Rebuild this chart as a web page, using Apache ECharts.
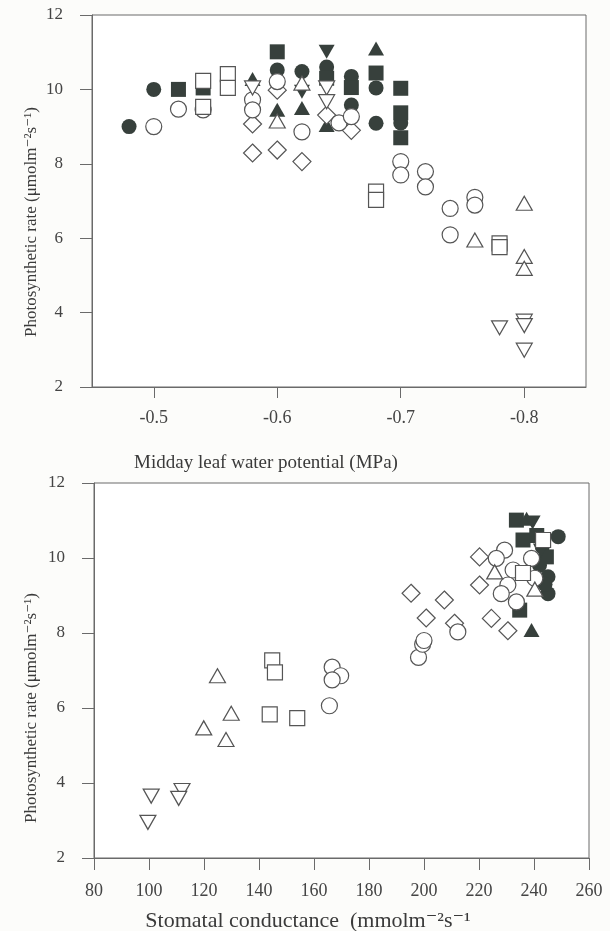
<!DOCTYPE html>
<html>
<head>
<meta charset="utf-8">
<script src="https://cdn.jsdelivr.net/npm/echarts@6/dist/echarts.min.js"></script>
<style>
html, body { margin: 0; padding: 0; background: #fcfcfa; }
#main { width: 610px; height: 931px; }
</style>
</head>
<body>
<div id="main"></div>
<script>
// upper panel: midday leaf water potential (MPa) vs photosynthetic rate
var topFilledCircle = [[-0.48, 9.0], [-0.50, 10.0], [-0.60, 10.52], [-0.62, 10.48], [-0.64, 10.6], [-0.66, 10.35], [-0.66, 9.58], [-0.68, 10.04], [-0.68, 9.09], [-0.70, 9.1]];
var topOpenCircle = [[-0.50, 9.0], [-0.52, 9.47], [-0.54, 9.45], [-0.58, 9.72], [-0.58, 9.45], [-0.60, 10.21], [-0.62, 8.86], [-0.65, 9.1], [-0.66, 9.27], [-0.70, 8.06], [-0.70, 7.7], [-0.72, 7.79], [-0.72, 7.38], [-0.74, 6.8], [-0.74, 6.09], [-0.76, 7.1], [-0.76, 6.89]];
var topFilledSquare = [[-0.52, 10.0], [-0.54, 10.04], [-0.60, 11.01], [-0.64, 10.3], [-0.66, 10.05], [-0.68, 10.44], [-0.70, 10.03], [-0.70, 9.37], [-0.70, 8.7]];
var topOpenSquare = [[-0.54, 10.23], [-0.54, 9.53], [-0.56, 10.41], [-0.56, 10.04], [-0.68, 7.25], [-0.68, 7.03], [-0.78, 5.86], [-0.78, 5.76]];
var topFilledTriUp = [[-0.58, 10.28], [-0.60, 9.45], [-0.62, 9.5], [-0.64, 9.04], [-0.68, 11.1]];
var topOpenTriUp = [[-0.60, 9.15], [-0.62, 10.17], [-0.76, 5.95], [-0.80, 6.94], [-0.80, 5.51], [-0.80, 5.19]];
var topFilledTriDown = [[-0.62, 9.94], [-0.64, 11.01]];
var topOpenTriDown = [[-0.58, 10.04], [-0.64, 10.04], [-0.64, 9.67], [-0.78, 3.59], [-0.80, 3.77], [-0.80, 3.65], [-0.80, 2.99]];
var topOpenDiamond = [[-0.58, 9.07], [-0.58, 8.29], [-0.60, 9.98], [-0.60, 8.37], [-0.62, 8.06], [-0.64, 9.31], [-0.66, 8.9]];

// lower panel: stomatal conductance vs photosynthetic rate
var botFilledCircle = [[248.8, 10.57], [245.1, 9.5], [245.1, 9.05], [243, 10.3], [242, 9.8], [244, 9.3]];
var botOpenCircle = [[166.6, 7.09], [169.7, 6.86], [166.6, 6.75], [165.6, 6.06], [198, 7.35], [199.5, 7.7], [200, 7.8], [212.3, 8.03], [229.3, 10.21], [226.3, 9.99], [239.1, 9.99], [232.4, 9.68], [240.3, 9.46], [230.5, 9.28], [228.1, 9.05], [233.6, 8.83]];
var botFilledSquare = [[233.6, 11.01], [236, 10.48], [244.5, 10.03], [234.8, 8.61], [241, 10.6]];
var botOpenSquare = [[144.8, 7.27], [145.8, 6.95], [143.9, 5.83], [153.9, 5.73], [243.3, 10.48], [236, 9.6]];
var botFilledTriUp = [[237.3, 11.05], [239.1, 8.08]];
var botOpenTriUp = [[124.9, 6.86], [129.9, 5.86], [119.9, 5.47], [128, 5.16], [225.7, 9.63], [240.3, 9.17]];
var botFilledTriDown = [[239.5, 10.95], [242.5, 10.2]];
var botOpenTriDown = [[100.8, 3.65], [99.6, 2.95], [112, 3.8], [110.8, 3.59]];
var botOpenDiamond = [[195.3, 9.06], [207.4, 8.88], [200.8, 8.4], [211.1, 8.26], [224.5, 8.39], [230.5, 8.06], [220.2, 9.28], [220.2, 10.03]];

var topXTicks = [-0.5, -0.6, -0.7, -0.8];
var yTitle = 'Photosynthetic rate (\u03bcmolm\u207b\u00b2s\u207b\u00b9)';
var topXTitle = 'Midday leaf water potential (MPa)';
var botXTitle = 'Stomatal conductance  (mmolm\u207b\u00b2s\u207b\u00b9';

var FONT = '"Liberation Serif", "DejaVu Serif", serif';
var DARK = '#37403c';
var LINE = '#6a6a6a';

function pts(idx, data, symbol, filled, size, rotate) {
	return {
		type: 'scatter',
		xAxisIndex: idx,
		yAxisIndex: idx,
		data: data,
		symbol: symbol,
		symbolSize: size,
		symbolRotate: rotate || 0,
		silent: true,
		itemStyle: filled ? {
			color: DARK, opacity: 1
		} : {
			color: '#ffffff', borderColor: '#555', borderWidth: 1.2, opacity: 1
		}
	};
}

function panel(idx, d) {
	// filled marks first, open marks on top
	return [
		pts(idx, d[0], 'circle', true, 15),
		pts(idx, d[2], 'rect', true, 15),
		pts(idx, d[4], 'triangle', true, [16, 14]),
		pts(idx, d[6], 'triangle', true, [16, 14], 180),
		pts(idx, d[8], 'diamond', false, 18),
		pts(idx, d[1], 'circle', false, 16),
		pts(idx, d[3], 'rect', false, 15),
		pts(idx, d[5], 'triangle', false, [16, 14]),
		pts(idx, d[7], 'triangle', false, [16, 14], 180)
	];
}

var axisLine = { show: true, lineStyle: { color: LINE, width: 1 } };
var labelStyle = { color: '#444', fontFamily: FONT, fontSize: 17 };

var option = {
	backgroundColor: '#fcfcfa',
	animation: false,
	grid: [
		{ left: 92, top: 15, width: 494, height: 372, show: true, borderColor: LINE, borderWidth: 1, backgroundColor: '#ffffff' },
		{ left: 94, top: 483, width: 495, height: 375, show: true, borderColor: LINE, borderWidth: 1, backgroundColor: '#ffffff' }
	],
	xAxis: [{
		gridIndex: 0,
		type: 'value',
		min: -0.85,
		max: -0.45,
		inverse: true,
		axisLine: axisLine,
		axisTick: { show: true, length: 11, lineStyle: { color: LINE }, customValues: topXTicks },
		axisLabel: Object.assign({ margin: 22, customValues: topXTicks, formatter: function (v) { return v.toFixed(1); } }, labelStyle, { fontSize: 18 }),
		splitLine: { show: false }
	}, {
		gridIndex: 1,
		type: 'value',
		min: 80,
		max: 260,
		interval: 20,
		axisLine: axisLine,
		axisTick: { show: true, length: 12, lineStyle: { color: LINE } },
		axisLabel: Object.assign({ margin: 24 }, labelStyle, { fontSize: 18 }),
		splitLine: { show: false }
	}],
	yAxis: [{
		gridIndex: 0,
		type: 'value',
		min: 2,
		max: 12,
		interval: 2,
		axisLine: axisLine,
		axisTick: { show: true, length: 12, lineStyle: { color: LINE } },
		axisLabel: Object.assign({ margin: 29 }, labelStyle),
		splitLine: { show: false }
	}, {
		gridIndex: 1,
		type: 'value',
		min: 2,
		max: 12,
		interval: 2,
		axisLine: axisLine,
		axisTick: { show: true, length: 12, lineStyle: { color: LINE } },
		axisLabel: Object.assign({ margin: 29 }, labelStyle),
		splitLine: { show: false }
	}],
	graphic: [
		{ type: 'text', x: 32, y: 222, rotation: Math.PI / 2, style: { text: yTitle, fill: '#3a3a3a', font: '17px ' + FONT, align: 'center', verticalAlign: 'middle' } },
		{ type: 'text', x: 266, y: 463, style: { text: topXTitle, fill: '#3a3a3a', font: '19px ' + FONT, align: 'center', verticalAlign: 'middle' } },
		{ type: 'text', x: 32, y: 708, rotation: Math.PI / 2, style: { text: yTitle, fill: '#3a3a3a', font: '17px ' + FONT, align: 'center', verticalAlign: 'middle' } },
		{ type: 'text', x: 308, y: 921, style: { text: botXTitle, fill: '#3a3a3a', font: '22px ' + FONT, align: 'center', verticalAlign: 'middle' } }
	],
	series: panel(0, [topFilledCircle, topOpenCircle, topFilledSquare, topOpenSquare, topFilledTriUp, topOpenTriUp, topFilledTriDown, topOpenTriDown, topOpenDiamond])
		.concat(panel(1, [botFilledCircle, botOpenCircle, botFilledSquare, botOpenSquare, botFilledTriUp, botOpenTriUp, botFilledTriDown, botOpenTriDown, botOpenDiamond]))
};

var chart = echarts.init(document.getElementById('main'));
chart.setOption(option);
</script>
</body>
</html>
